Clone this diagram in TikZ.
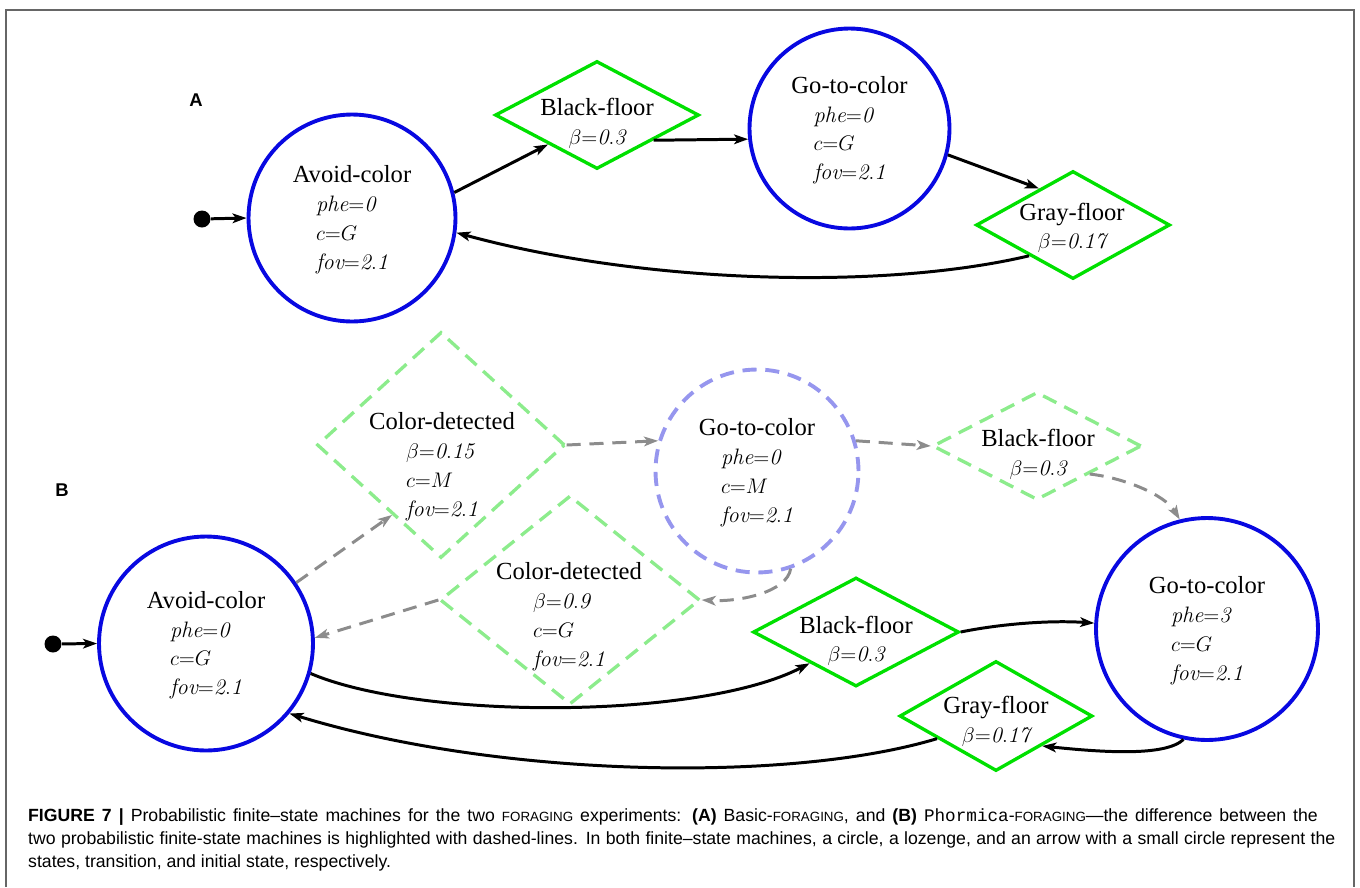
\documentclass[tikz,border=0pt]{standalone}
\usepackage{fontspec}
\newfontfamily\stfont{Liberation Serif}
\newfontfamily\capfont{Liberation Sans}
\newfontfamily\capmono{Liberation Mono}
\usetikzlibrary{arrows.meta,shapes.geometric}
\definecolor{stateblue}{RGB}{8,8,225}
\definecolor{transgreen}{RGB}{0,224,0}
\definecolor{newgreen}{RGB}{140,236,140}
\definecolor{newblue}{RGB}{150,150,238}
\definecolor{newgray}{RGB}{140,140,140}
\newcommand{\stname}[1]{\rule{0pt}{14pt}#1}
\newcommand{\attrs}[1]{{\fontsize{12.7}{16.4}\selectfont\begin{tabular}[t]{@{}l@{}}#1\end{tabular}}}
\newcommand{\smcaps}[1]{{\fontsize{7.6}{10}\selectfont #1}}

\begin{document}
\begin{tikzpicture}[x=0.02cm,y=-0.02cm,>={Stealth[length=8pt,width=5.5pt,inset=2pt]},
  every node/.style={font=\stfont\fontsize{14}{16.4}\selectfont,align=center},
  state/.style={circle,draw=stateblue,line width=2.2pt,inner sep=0pt},
  newstate/.style={state,draw=newblue,dash pattern=on 8pt off 5pt},
  lozenge/.style={diamond,draw=transgreen,line width=1.9pt,inner sep=0pt},
  newlozenge/.style={lozenge,draw=newgreen,dash pattern=on 8.5pt off 5pt},
  tr/.style={->,line width=1.7pt},
  newtr/.style={->,line width=1.7pt,newgray,dash pattern=on 8pt off 5pt},
  initdot/.style={circle,fill=black,inner sep=0pt,minimum size=0.34cm},
  panel/.style={font=\capfont\bfseries\fontsize{10.5}{12}\selectfont},
  caption/.style={font=\capfont\fontsize{10.05}{13}\selectfont,anchor=base west}]
\useasboundingbox (0,0) rectangle (1360,887);
\draw[gray!80!black,line width=0.9pt] (6,887) |- (1354,10) -- (1354,887);
% panel A
\node[panel] (labA) at (196,100) {A};
\node[initdot] (dotA) at (202,219) {};
\node[state,minimum size=4.14cm] (avA) at (352,218) {\stname{Avoid-color}\\\attrs{$\mathit{phe}{=}\mathit{0}$\\$c{=}G$\\$\mathit{fov}{=}\mathit{2.1}$}};
\node[lozenge,minimum width=4.08cm,minimum height=2.16cm] (bfA) at (597,115) {};
\node (bfAtxt) at (597,122) {\stname{Black-floor}\\\attrs{$\beta{=}\mathit{0.3}$}};
\node[state,minimum size=4cm] (goA) at (849.5,128.5) {\stname{Go-to-color}\\\attrs{$\mathit{phe}{=}\mathit{0}$\\$c{=}G$\\$\mathit{fov}{=}\mathit{2.1}$}};
\node[lozenge,minimum width=3.88cm,minimum height=2.16cm] (gfA) at (1073,225) {};
\node (gfAtxt) at (1072,226.5) {\stname{Gray-floor}\\\attrs{$\beta{=}\mathit{0.17}$}};
\draw[tr] (dotA) -- (avA.west);
\draw[tr] (avA.14) -- (bfA.211);
\draw[tr] (bfA.336) -- (goA.186);
\draw[tr] (goA.345) -- (gfA.133);
\draw[tr] (gfA.215) .. controls (880,291) and (640,283) .. (avA.352);
% panel B
\node[panel] (labB) at (62,490) {B};
\node[initdot] (dotB) at (53,644) {};
\node[state,minimum size=4.28cm] (avB) at (206,643.5) {\stname{Avoid-color}\\\attrs{$\mathit{phe}{=}\mathit{0}$\\$c{=}G$\\$\mathit{fov}{=}\mathit{2.1}$}};
\node[newlozenge,minimum width=4.96cm,minimum height=4.52cm] (cdM) at (441,445) {};
\node (cdMtxt) at (442,465) {\stname{Color-detected}\\\attrs{$\beta{=}\mathit{0.15}$\\$c{=}M$\\$\mathit{fov}{=}\mathit{2.1}$}};
\node[newstate,minimum size=4.06cm] (goM) at (757,471) {\stname{Go-to-color}\\\attrs{$\mathit{phe}{=}\mathit{0}$\\$c{=}M$\\$\mathit{fov}{=}\mathit{2.1}$}};
\node[newlozenge,minimum width=4.18cm,minimum height=2.16cm] (bfM) at (1037,446) {};
\node (bfMtxt) at (1038,453) {\stname{Black-floor}\\\attrs{$\beta{=}\mathit{0.3}$}};
\node[newlozenge,minimum width=5.2cm,minimum height=4.18cm] (cdG) at (570,600) {};
\node (cdGtxt) at (569,615) {\stname{Color-detected}\\\attrs{$\beta{=}\mathit{0.9}$\\$c{=}G$\\$\mathit{fov}{=}\mathit{2.1}$}};
\node[lozenge,minimum width=4.12cm,minimum height=2.18cm] (bfB) at (856,632) {};
\node (bfBtxt) at (856,639.5) {\stname{Black-floor}\\\attrs{$\beta{=}\mathit{0.3}$}};
\node[state,minimum size=4.44cm] (goB) at (1207,629) {\stname{Go-to-color}\\\attrs{$\mathit{phe}{=}\mathit{3}$\\$c{=}G$\\$\mathit{fov}{=}\mathit{2.1}$}};
\node[lozenge,minimum width=3.86cm,minimum height=2.2cm] (gfB) at (996,716) {};
\node (gfBtxt) at (996,720) {\stname{Gray-floor}\\\attrs{$\beta{=}\mathit{0.17}$}};
\draw[newtr] (avB.34) -- (cdM.235);
\draw[newtr] (cdM.east) -- (goM.163);
\draw[newtr] (goM.17) -- (bfM.west);
\draw[newtr] (bfM.332) .. controls (1125,478) and (1165,495) .. (goB.104);
\draw[newtr] (goM.289) .. controls (787,592) and (740,602) .. (cdG.east);
\draw[newtr] (cdG.west) -- (avB.3);
\draw[tr] (dotB) -- (avB.west);
\draw[tr] (avB.344) .. controls (420,720) and (700,720) .. (bfB.214);
\draw[tr] (bfB.east) .. controls (1000,624) and (1050,620) .. (goB.177);
\draw[tr] (goB.258) .. controls (1165,757) and (1100,752) .. (gfB.327);
\draw[tr] (gfB.201) .. controls (790,783) and (500,778) .. (avB.320);
% caption
\node[caption] (capA) at (22,821) {\hbox to 734pt{{\bfseries FIGURE 7 |} Probabilistic finite–state machines for the two \smcaps{FORAGING} experiments: {\bfseries (A)} Basic-\smcaps{FORAGING}, and {\bfseries (B)} {\capmono Phormica}-\smcaps{FORAGING}—the difference between the}};
\node[caption] (capB) at (22,844) {\hbox to 744pt{two probabilistic finite-state machines is highlighted with dashed-lines. In both finite–state machines, a circle, a lozenge, and an arrow with a small circle represent the}};
\node[caption] (capC) at (22,867) {states, transition, and initial state, respectively.};
\end{tikzpicture}
\end{document}
